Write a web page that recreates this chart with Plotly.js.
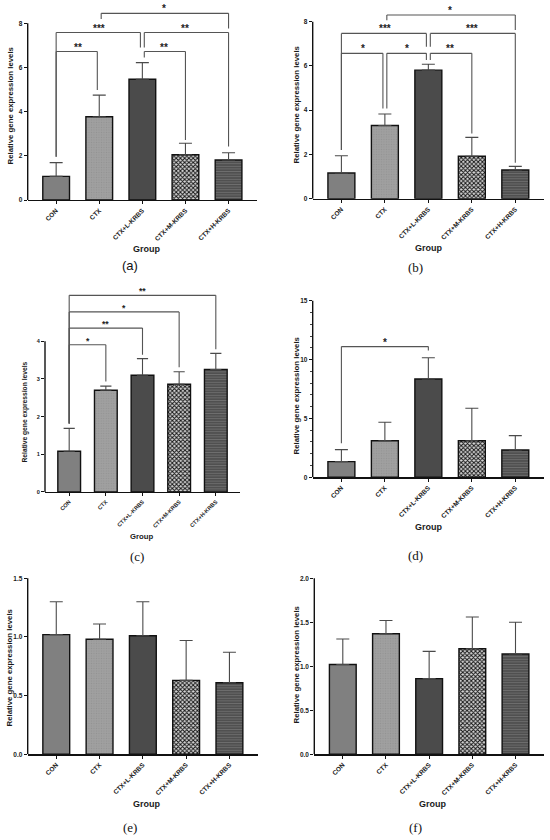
<!DOCTYPE html>
<html><head><meta charset="utf-8">
<script src="https://cdn.plot.ly/plotly-3.0.1.min.js"></script>
<style>html,body{margin:0;padding:0;background:#fff}#chart{width:550px;height:840px}</style>
</head><body><div id="chart"></div>
<script>
// ---------------- data ----------------
const categories = ['CON', 'CTX', 'CTX+L-KRBS', 'CTX+M-KRBS', 'CTX+H-KRBS'];
const panelLabels = ['(a)', '(b)', '(c)', '(d)', '(e)', '(f)'];

const meanA = [1.07, 3.77, 5.47, 2.05, 1.81];
const sdA   = [0.62, 0.98, 0.75, 0.52, 0.33];
const meanB = [1.16, 3.31, 5.81, 1.92, 1.30];
const sdB   = [0.78, 0.52, 0.27, 0.85, 0.16];
const meanC = [1.08, 2.70, 3.10, 2.86, 3.25];
const sdC   = [0.61, 0.11, 0.44, 0.33, 0.43];
const meanD = [1.33, 3.11, 8.35, 3.11, 2.32];
const sdD   = [1.02, 1.56, 1.81, 2.75, 1.22];
const meanE = [1.02, 0.98, 1.01, 0.63, 0.61];
const sdE   = [0.28, 0.13, 0.29, 0.34, 0.26];
const meanF = [1.02, 1.37, 0.86, 1.20, 1.14];
const sdF   = [0.29, 0.15, 0.31, 0.36, 0.36];

const yTicksA = [0, 2, 4, 6, 8];
const yTicksB = [0, 2, 4, 6, 8];
const yTicksC = [0, 1, 2, 3, 4];
const yTicksD = [0, 5, 10, 15];
const yTicksE = [0, 0.5, 1.0, 1.5];
const yTicksF = [0, 0.5, 1.0, 1.5, 2.0];

// significance brackets: [fromIndex, toIndex, label]
const sigA = [[0, 1, '**'], [0, 2, '***'], [2, 3, '**'], [2, 4, '**'], [1, 4, '*']];
const sigB = [[0, 1, '*'], [1, 2, '*'], [2, 3, '**'], [0, 2, '***'], [2, 4, '***'], [1, 4, '*']];
const sigC = [[0, 1, '*'], [0, 2, '**'], [0, 3, '*'], [0, 4, '**']];
const sigD = [[0, 2, '*']];
// bracket heights and leg ends (y values)
const sigTopA = [6.72, 7.58, 6.72, 7.58, 8.45];
const sigLegA = [[1.96, 4.98], [1.96, 6.9], [6.45, 2.72], [6.9, 2.42], [8.2, 7.77]];
const sigTopB = [6.57, 6.57, 6.57, 7.47, 7.47, 8.3];
const sigLegB = [[2.2, 4.08], [4.08, 6.27], [6.27, 2.95], [2.2, 6.87], [6.87, 1.63], [8.07, 7.62]];
const sigTopC = [3.91, 4.35, 4.78, 5.22];
const sigLegC = [[1.82, 2.93], [1.82, 3.64], [1.82, 3.31], [1.82, 3.79]];
const sigTopD = [11.1];
const sigLegD = [[2.89, 10.76]];

// ---------------- layout geometry (px) ----------------
const W = 550, H = 840;
const panels = [
  {mean: meanA, sd: sdA, ticks: yTicksA, sig: sigA, top: sigTopA, leg: sigLegA, fmt: '',
   l: 27.7, r: 257, b: 200, t: 23.3, max: 9.0, s: 1, ytx: 9.5, yty: 106, gx: 146, gy: 249, lx: 130, ly: 265, labFont: 'Liberation Sans'},
  {mean: meanB, sd: sdB, ticks: yTicksB, sig: sigB, top: sigTopB, leg: sigLegB, fmt: '',
   l: 312.7, r: 544, b: 198.7, t: 21.7, max: 8.95, s: 1, ytx: 295.5, yty: 105, gx: 428, gy: 248, lx: 415, ly: 267, labFont: 'Liberation Serif'},
  {mean: meanC, sd: sdC, ticks: yTicksC, sig: sigC, top: sigTopC, leg: sigLegC, fmt: '',
   l: 45, r: 240, b: 492, t: 341.3, max: 5.5, s: 0.86, ytx: 24.5, yty: 412, gx: 141, gy: 536, lx: 137, ly: 556, labFont: 'Liberation Serif'},
  {mean: meanD, sd: sdD, ticks: yTicksD, sig: sigD, top: sigTopD, leg: sigLegD, fmt: '', minor: 1,
   l: 312.7, r: 544, b: 477.3, t: 300.7, max: 15.3, s: 1, ytx: 295.5, yty: 396, gx: 428, gy: 527, lx: 415, ly: 555, labFont: 'Liberation Serif'},
  {mean: meanE, sd: sdE, ticks: yTicksE, sig: [], top: [], leg: [], fmt: '.1f',
   l: 27.7, r: 258, b: 754.3, t: 578.3, max: 1.53, s: 1, ytx: 8.5, yty: 668, gx: 146, gy: 804, lx: 130, ly: 827, labFont: 'Liberation Serif'},
  {mean: meanF, sd: sdF, ticks: yTicksF, sig: [], top: [], leg: [], fmt: '.1f',
   l: 314.3, r: 544, b: 754.3, t: 578.3, max: 2.04, s: 1, ytx: 295.5, yty: 665, gx: 432, gy: 804, lx: 415, ly: 827, labFont: 'Liberation Serif'}
];

// ---------------- styles (one per group) ----------------
const barColors = ['#808080', '#a0a0a0', '#4b4b4b', '#d6d6d6', '#4c4c4c'];
const patShape  = ['', '.', '', 'x', '-'];
const patFg     = ['#808080', '#929292', '#4b4b4b', '#161616', '#6e6e6e'];
const patSize   = [3, 2.5, 3, 3, 2.6];
const patSolid  = [0.3, 0.2, 0.3, 0.55, 0.4];

const SANS = 'Liberation Sans, Arial, sans-serif';
const px2x = v => v / W;
const px2y = v => 1 - v / H;

const data = [];
const layout = {
  width: W, height: H, margin: {l: 0, r: 0, t: 0, b: 0},
  paper_bgcolor: '#fff', plot_bgcolor: 'rgba(0,0,0,0)',
  showlegend: false, barmode: 'overlay',
  shapes: [], annotations: []
};

panels.forEach((p, i) => {
  const n = i + 1;
  const xa = 'xaxis' + (n === 1 ? '' : n), ya = 'yaxis' + (n === 1 ? '' : n);
  const xr = 'x' + (n === 1 ? '' : n), yr = 'y' + (n === 1 ? '' : n);
  const axisTop = p.ticks[p.ticks.length - 1];
  const topPx = p.b - (p.max / axisTop) * (p.b - p.t);
  const tf = {family: SANS, size: 6.5 * p.s, weight: 'bold', color: '#1a1a1a'};

  categories.forEach((c, j) => {
    const marker = {color: barColors[j], line: {color: '#111', width: 1.4}};
    if (patShape[j]) {
      marker.pattern = {shape: patShape[j], bgcolor: barColors[j], fgcolor: patFg[j], fgopacity: 1,
                        size: patSize[j], solidity: patSolid[j], fillmode: 'overlay'};
    }
    data.push({
      type: 'bar', x: [c], y: [p.mean[j]], xaxis: xr, yaxis: yr, name: c,
      width: 0.62, marker: marker,
      error_y: {type: 'data', symmetric: false, array: [p.sd[j]], arrayminus: [0],
                color: '#4a4a4a', thickness: 1.1, width: 6.5 * p.s},
      hoverinfo: 'x+y'
    });
  });

  layout[xa] = {
    domain: [px2x(p.l), px2x(p.r)], anchor: yr, range: [-0.66, 4.66],
    type: 'category', categoryorder: 'array', categoryarray: categories,
    showline: true, linecolor: '#111', linewidth: 1.4,
    ticks: 'outside', ticklen: 3, tickwidth: 1, tickcolor: '#111',
    tickangle: -45, tickfont: tf, showgrid: false, zeroline: false, fixedrange: true
  };
  const yaxis = {
    domain: [px2y(p.b), px2y(topPx)], anchor: xr, range: [0, p.max],
    showline: false, tickmode: 'array', tickvals: p.ticks,
    ticks: 'outside', ticklen: 3, tickwidth: 1, tickcolor: '#111',
    tickfont: tf, showgrid: false, zeroline: false, fixedrange: true
  };
  if (p.fmt) yaxis.tickformat = p.fmt;
  if (p.minor) yaxis.minor = {ticks: 'outside', ticklen: 1.8, tickwidth: 0.8, tickcolor: '#111', dtick: p.minor, tick0: 0, showgrid: false};
  layout[ya] = yaxis;

  // y axis line up to last tick
  layout.shapes.push({type: 'line', xref: xr + ' domain', yref: yr, x0: 0, x1: 0, y0: 0, y1: axisTop,
                      line: {color: '#111', width: 1.4}, layer: 'above'});

  // significance brackets
  const ends = p.sig.map(s => s[1]);
  const starts = p.sig.map(s => s[0]);
  p.sig.forEach((s, k) => {
    const [a, b, lab] = s;
    const xa0 = a + (ends.includes(a) ? 0.045 : 0);
    const xb0 = b - (starts.includes(b) ? 0.045 : 0);
    const yt = p.top[k], [la, lb] = p.leg[k];
    const ln = {color: '#555', width: 1.1};
    layout.shapes.push({type: 'line', xref: xr, yref: yr, x0: xa0, x1: xb0, y0: yt, y1: yt, line: ln});
    layout.shapes.push({type: 'line', xref: xr, yref: yr, x0: xa0, x1: xa0, y0: yt, y1: la, line: ln});
    layout.shapes.push({type: 'line', xref: xr, yref: yr, x0: xb0, x1: xb0, y0: yt, y1: lb, line: ln});
    layout.annotations.push({xref: xr, yref: yr, x: (a + b) / 2, y: yt, text: lab, showarrow: false,
      yanchor: 'bottom', yshift: -3, font: {family: SANS, size: 10 * p.s, weight: 'bold', color: '#222'}});
  });

  // titles
  layout.annotations.push({xref: 'paper', yref: 'paper', x: px2x(p.ytx), y: px2y(p.yty), text: 'Relative gene expression levels',
    textangle: -90, showarrow: false, xanchor: 'center', yanchor: 'middle',
    font: {family: SANS, size: 7.8 * p.s, weight: 'bold', color: '#1a1a1a'}});
  layout.annotations.push({xref: 'paper', yref: 'paper', x: px2x(p.gx), y: px2y(p.gy), text: 'Group',
    showarrow: false, xanchor: 'center', yanchor: 'middle',
    font: {family: SANS, size: 9 * p.s, weight: 'bold', color: '#1a1a1a'}});
  layout.annotations.push({xref: 'paper', yref: 'paper', x: px2x(p.lx), y: px2y(p.ly), text: panelLabels[i],
    showarrow: false, xanchor: 'center', yanchor: 'middle',
    font: {family: p.labFont, size: 13, color: '#111'}});
});

Plotly.newPlot('chart', data, layout, {displayModeBar: false, staticPlot: true});
</script>
</body></html>
